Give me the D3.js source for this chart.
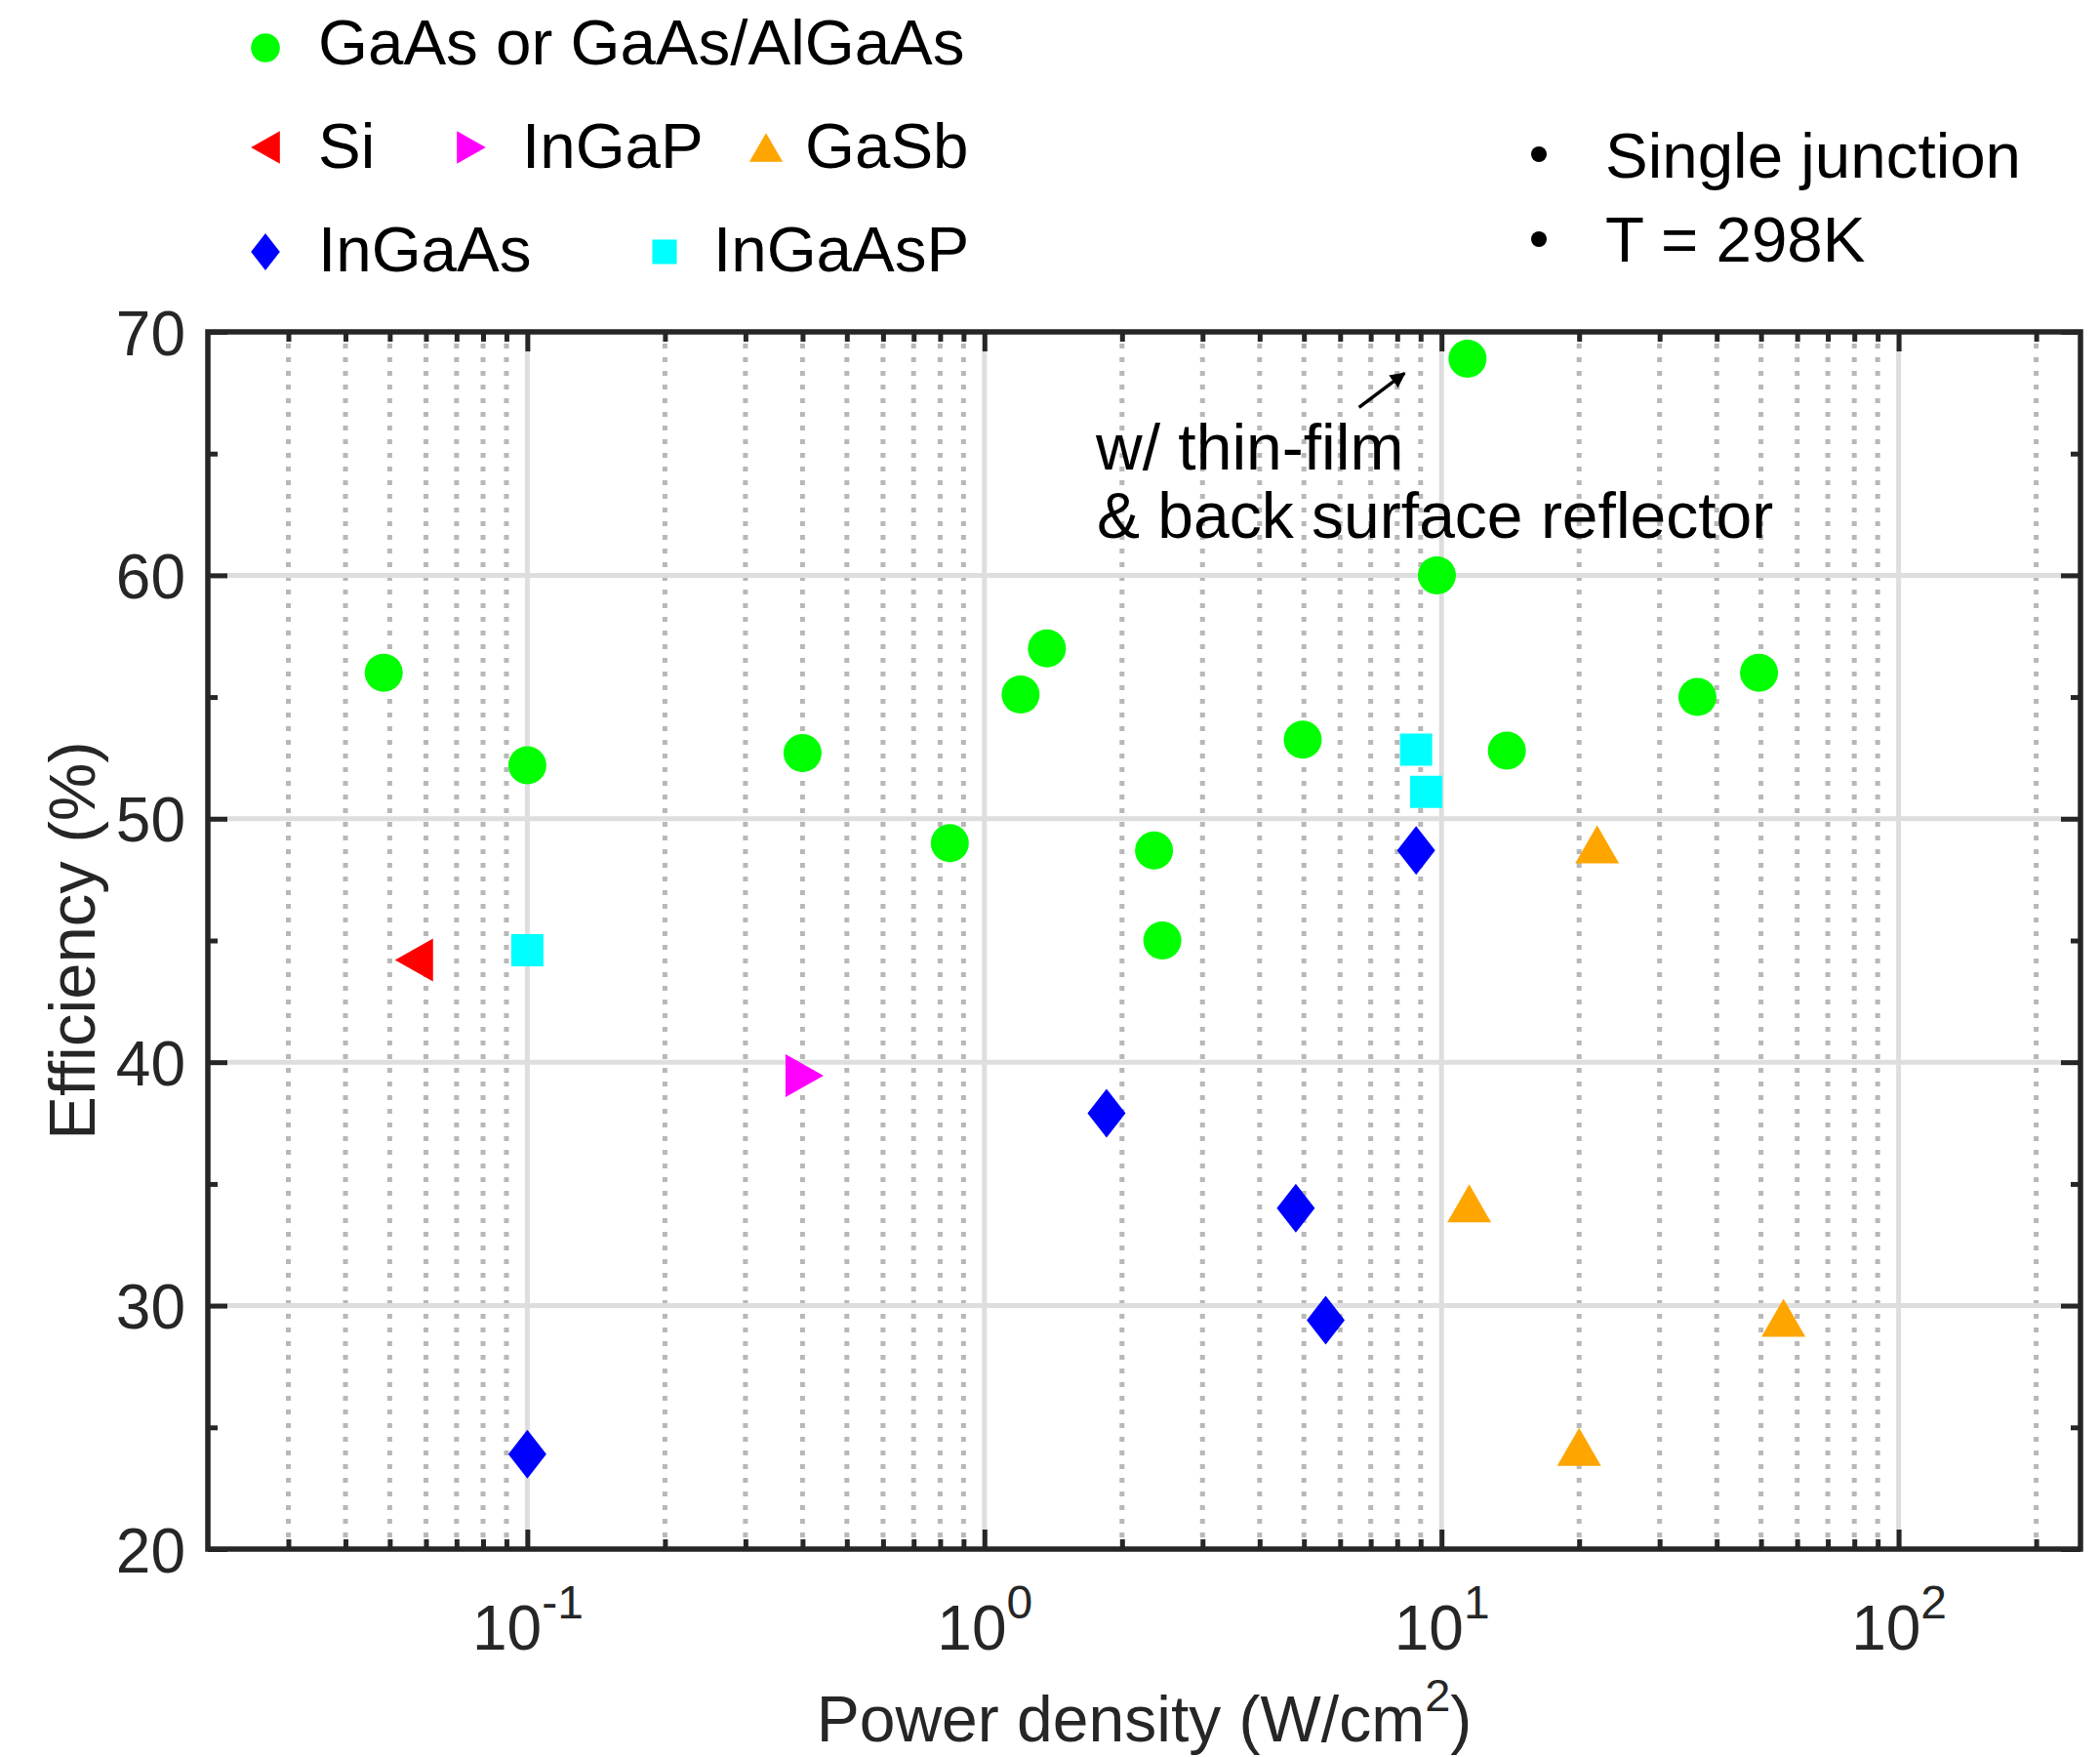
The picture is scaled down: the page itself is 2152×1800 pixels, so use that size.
<!DOCTYPE html>
<html>
<head>
<meta charset="utf-8">
<script src="https://cdn.jsdelivr.net/npm/d3@7"></script>
<style>
  html, body { margin: 0; padding: 0; background: #ffffff; }
  svg { display: block; font-family: "Liberation Sans", Arial, Helvetica, sans-serif; }
</style>
</head>
<body>
<svg id="chart" width="2152" height="1800"></svg>
<script>
// ---------------- data ----------------
const gaasX = [0.0485, 0.1, 0.4, 0.84, 1.2, 1.37, 2.35, 2.45, 4.97, 9.77, 11.4, 13.9, 36.3, 49.5];
const gaasY = [56.0, 52.2, 52.7, 49.0, 55.1, 57.0, 48.7, 45.0, 53.25, 60.0, 68.9, 52.8, 55.0, 56.0];
const siX = [0.0565];
const siY = [44.2];
const ingapX = [0.404];
const ingapY = [39.45];
const gasbX = [21.9, 11.5, 56, 20];
const gasbY = [48.95, 34.2, 29.5, 24.2];
const ingaasX = [0.1, 1.85, 4.8, 5.58, 8.8];
const ingaasY = [23.9, 37.9, 34.0, 29.4, 48.7];
const ingaaspX = [0.1, 8.8, 9.26];
const ingaaspY = [44.6, 52.84, 51.1];

const xMajorTicks = [0.1, 1, 10, 100];
const xTickBase = ["10", "10", "10", "10"];
const xTickExp = ["-1", "0", "1", "2"];
const yMajorTicks = [20, 30, 40, 50, 60, 70];
const yMinorTicks = [25, 35, 45, 55, 65];
const xDomain = [0.02, 250];
const yDomain = [20, 70];

const seriesNames = ["GaAs or GaAs/AlGaAs", "Si", "InGaP", "GaSb", "InGaAs", "InGaAsP"];
const seriesColors = ["#00ff00", "#ff0000", "#ff00ff", "#ffa500", "#0000ff", "#00ffff"];
const seriesShapes = ["circle", "triangleLeft", "triangleRight", "triangleUp", "diamond", "square"];

const noteLines = ["w/ thin-film", "& back surface reflector"];
const infoLines = ["Single junction", "T = 298K"];

// ---------------- layout ----------------
const svg = d3.select("#chart");
const L = 213, R = 2132, T = 340, B = 1587;
const axisColor = "#262626";
const FS = 64;      // tick labels
const FSL = 65.5;   // legend / info text
const FSA = 66;     // axis titles & annotation

const x = d3.scaleLog().domain(xDomain).range([L, R]);
const y = d3.scaleLinear().domain(yDomain).range([B, T]);

// minor x tick values (2..9 of each decade within domain)
const xMinorTicks = [];
for (let e = -2; e <= 2; e++) {
  for (let m = 2; m <= 9; m++) {
    const v = m * Math.pow(10, e);
    if (v > xDomain[0] * 1.0001 && v < xDomain[1]) xMinorTicks.push(+v.toPrecision(3));
  }
}

// ---------------- grid ----------------
const grid = svg.append("g");
grid.selectAll(".xminor").data(xMinorTicks).enter().append("line")
  .attr("x1", d => x(d)).attr("x2", d => x(d))
  .attr("y1", T + 12).attr("y2", B)
  .attr("stroke", "#b8b8b8").attr("stroke-width", 5)
  .attr("stroke-dasharray", "5,9");
grid.selectAll(".xmajor").data(xMajorTicks).enter().append("line")
  .attr("x1", d => x(d)).attr("x2", d => x(d))
  .attr("y1", T).attr("y2", B)
  .attr("stroke", "#dedede").attr("stroke-width", 5);
grid.selectAll(".ymajor").data(yMajorTicks.slice(1, -1)).enter().append("line")
  .attr("x1", L).attr("x2", R)
  .attr("y1", d => y(d)).attr("y2", d => y(d))
  .attr("stroke", "#dedede").attr("stroke-width", 5);

// ---------------- markers ----------------
function markerPath(shape, k) {
  let w, h;
  switch (shape) {
    case "circle": {
      const r = 19.5 * k;
      return `M${-r},0A${r},${r} 0 1,0 ${r},0A${r},${r} 0 1,0 ${-r},0Z`;
    }
    case "square": {
      const s = 16.5 * k;
      return `M${-s},${-s}H${s}V${s}H${-s}Z`;
    }
    case "diamond":
      w = 19.5 * k; h = 25 * k;
      return `M0,${-h}L${w},0L0,${h}L${-w},0Z`;
    case "triangleUp":
      w = 22.5 * k; h = 19.5 * k;
      return `M0,${-h}L${w},${h}L${-w},${h}Z`;
    case "triangleLeft":
      w = 19.5 * k; h = 22 * k;
      return `M${-w},0L${w},${-h}L${w},${h}Z`;
    case "triangleRight":
      w = 19.5 * k; h = 22 * k;
      return `M${w},0L${-w},${-h}L${-w},${h}Z`;
  }
}

const allSeries = [
  [gaasX, gaasY], [siX, siY], [ingapX, ingapY], [gasbX, gasbY], [ingaasX, ingaasY], [ingaaspX, ingaaspY]
];
const marks = svg.append("g");
allSeries.forEach((s, i) => {
  const pts = s[0].map((v, j) => [v, s[1][j]]);
  marks.selectAll(null).data(pts).enter().append("path")
    .attr("d", markerPath(seriesShapes[i], 1))
    .attr("transform", d => `translate(${x(d[0])},${y(d[1])})`)
    .attr("fill", seriesColors[i]);
});

// ---------------- axes ----------------
function styleAxis(g) {
  g.select(".domain").remove();
  g.selectAll(".tick line").attr("stroke", axisColor).attr("stroke-width", 5);
  g.selectAll("text").attr("fill", axisColor).attr("font-size", FS)
    .attr("font-family", "'Liberation Sans', Arial, Helvetica, sans-serif");
}

const gb = svg.append("g").attr("transform", `translate(0,${B})`)
  .call(d3.axisBottom(x).tickValues(xMajorTicks).tickSizeInner(-20).tickSizeOuter(0)
    .tickFormat((d, i) => xTickBase[i]));
styleAxis(gb);
gb.selectAll("text").attr("y", 103).attr("dy", null)
  .each(function(d, i) {
    d3.select(this).append("tspan")
      .attr("dy", -32).attr("font-size", 48).text(xTickExp[i]);
  });
styleAxis(svg.append("g").attr("transform", `translate(0,${B})`)
  .call(d3.axisBottom(x).tickValues(xMinorTicks).tickSizeInner(-10).tickSizeOuter(0).tickFormat("")));
styleAxis(svg.append("g").attr("transform", `translate(0,${T})`)
  .call(d3.axisTop(x).tickValues(xMajorTicks).tickSizeInner(-20).tickSizeOuter(0).tickFormat("")));
styleAxis(svg.append("g").attr("transform", `translate(0,${T})`)
  .call(d3.axisTop(x).tickValues(xMinorTicks).tickSizeInner(-10).tickSizeOuter(0).tickFormat("")));
const gl = svg.append("g").attr("transform", `translate(${L},0)`)
  .call(d3.axisLeft(y).tickValues(yMajorTicks).tickSizeInner(-20).tickSizeOuter(0).tickPadding(23));
styleAxis(gl);
gl.selectAll("text").attr("dy", "0.36em");
styleAxis(svg.append("g").attr("transform", `translate(${L},0)`)
  .call(d3.axisLeft(y).tickValues(yMinorTicks).tickSizeInner(-10).tickSizeOuter(0).tickFormat("")));
styleAxis(svg.append("g").attr("transform", `translate(${R},0)`)
  .call(d3.axisRight(y).tickValues(yMajorTicks).tickSizeInner(-20).tickSizeOuter(0).tickFormat("")));
styleAxis(svg.append("g").attr("transform", `translate(${R},0)`)
  .call(d3.axisRight(y).tickValues(yMinorTicks).tickSizeInner(-10).tickSizeOuter(0).tickFormat("")));

svg.append("rect").attr("x", L).attr("y", T).attr("width", R - L).attr("height", B - T)
  .attr("fill", "none").attr("stroke", axisColor).attr("stroke-width", 5.5);

// axis labels
const xl = svg.append("text").attr("x", (L + R) / 2).attr("y", 1784)
  .attr("text-anchor", "middle").attr("font-size", FSA).attr("fill", axisColor);
xl.append("tspan").text("Power density (W/cm");
xl.append("tspan").attr("dy", -31).attr("font-size", 47).text("2");
xl.append("tspan").attr("dy", 31).text(")");

svg.append("text")
  .attr("transform", `translate(97,${(T + B) / 2}) rotate(-90)`)
  .attr("text-anchor", "middle").attr("font-size", 67).attr("fill", axisColor)
  .text("Efficiency (%)");

// ---------------- annotation ----------------
svg.append("defs").append("marker")
  .attr("id", "arrowhead").attr("viewBox", "0 0 10 10").attr("refX", 9).attr("refY", 5)
  .attr("markerWidth", 4.5).attr("markerHeight", 4.5).attr("orient", "auto")
  .append("path").attr("d", "M0,0L10,5L0,10Z").attr("fill", "#000");
svg.append("line")
  .attr("x1", x(6.6)).attr("y1", y(66.9))
  .attr("x2", x(8.3)).attr("y2", y(68.3))
  .attr("stroke", "#000").attr("stroke-width", 3.5)
  .attr("marker-end", "url(#arrowhead)");
svg.append("text").attr("x", 1123).attr("y", 481).attr("font-size", FSA).attr("fill", "#000")
  .text(noteLines[0]);
svg.append("text").attr("x", 1124).attr("y", 551).attr("font-size", FSA).attr("fill", "#000")
  .text(noteLines[1]);

// ---------------- legend ----------------
const legendItems = [
  { i: 0, mx: 272, my: 49, tx: 326, ty: 66 },
  { i: 1, mx: 272, my: 151, tx: 326, ty: 172 },
  { i: 2, mx: 483, my: 151, tx: 535, ty: 172 },
  { i: 3, mx: 785, my: 151, tx: 825, ty: 172 },
  { i: 4, mx: 272, my: 258, tx: 326, ty: 278 },
  { i: 5, mx: 681, my: 258, tx: 731, ty: 278 }
];
const lg = svg.append("g");
legendItems.forEach(it => {
  lg.append("path").attr("d", markerPath(seriesShapes[it.i], 0.76))
    .attr("transform", `translate(${it.mx},${it.my})`)
    .attr("fill", seriesColors[it.i]);
  lg.append("text").attr("x", it.tx).attr("y", it.ty).attr("font-size", FSL).attr("fill", "#000")
    .text(seriesNames[it.i]);
});

// ---------------- info text ----------------
[[182, 158], [268, 245]].forEach((p, k) => {
  svg.append("circle").attr("cx", 1577).attr("cy", p[1]).attr("r", 8).attr("fill", "#000");
  svg.append("text").attr("x", 1645).attr("y", p[0]).attr("font-size", FSL).attr("fill", "#000")
    .text(infoLines[k]);
});
</script>
</body>
</html>
